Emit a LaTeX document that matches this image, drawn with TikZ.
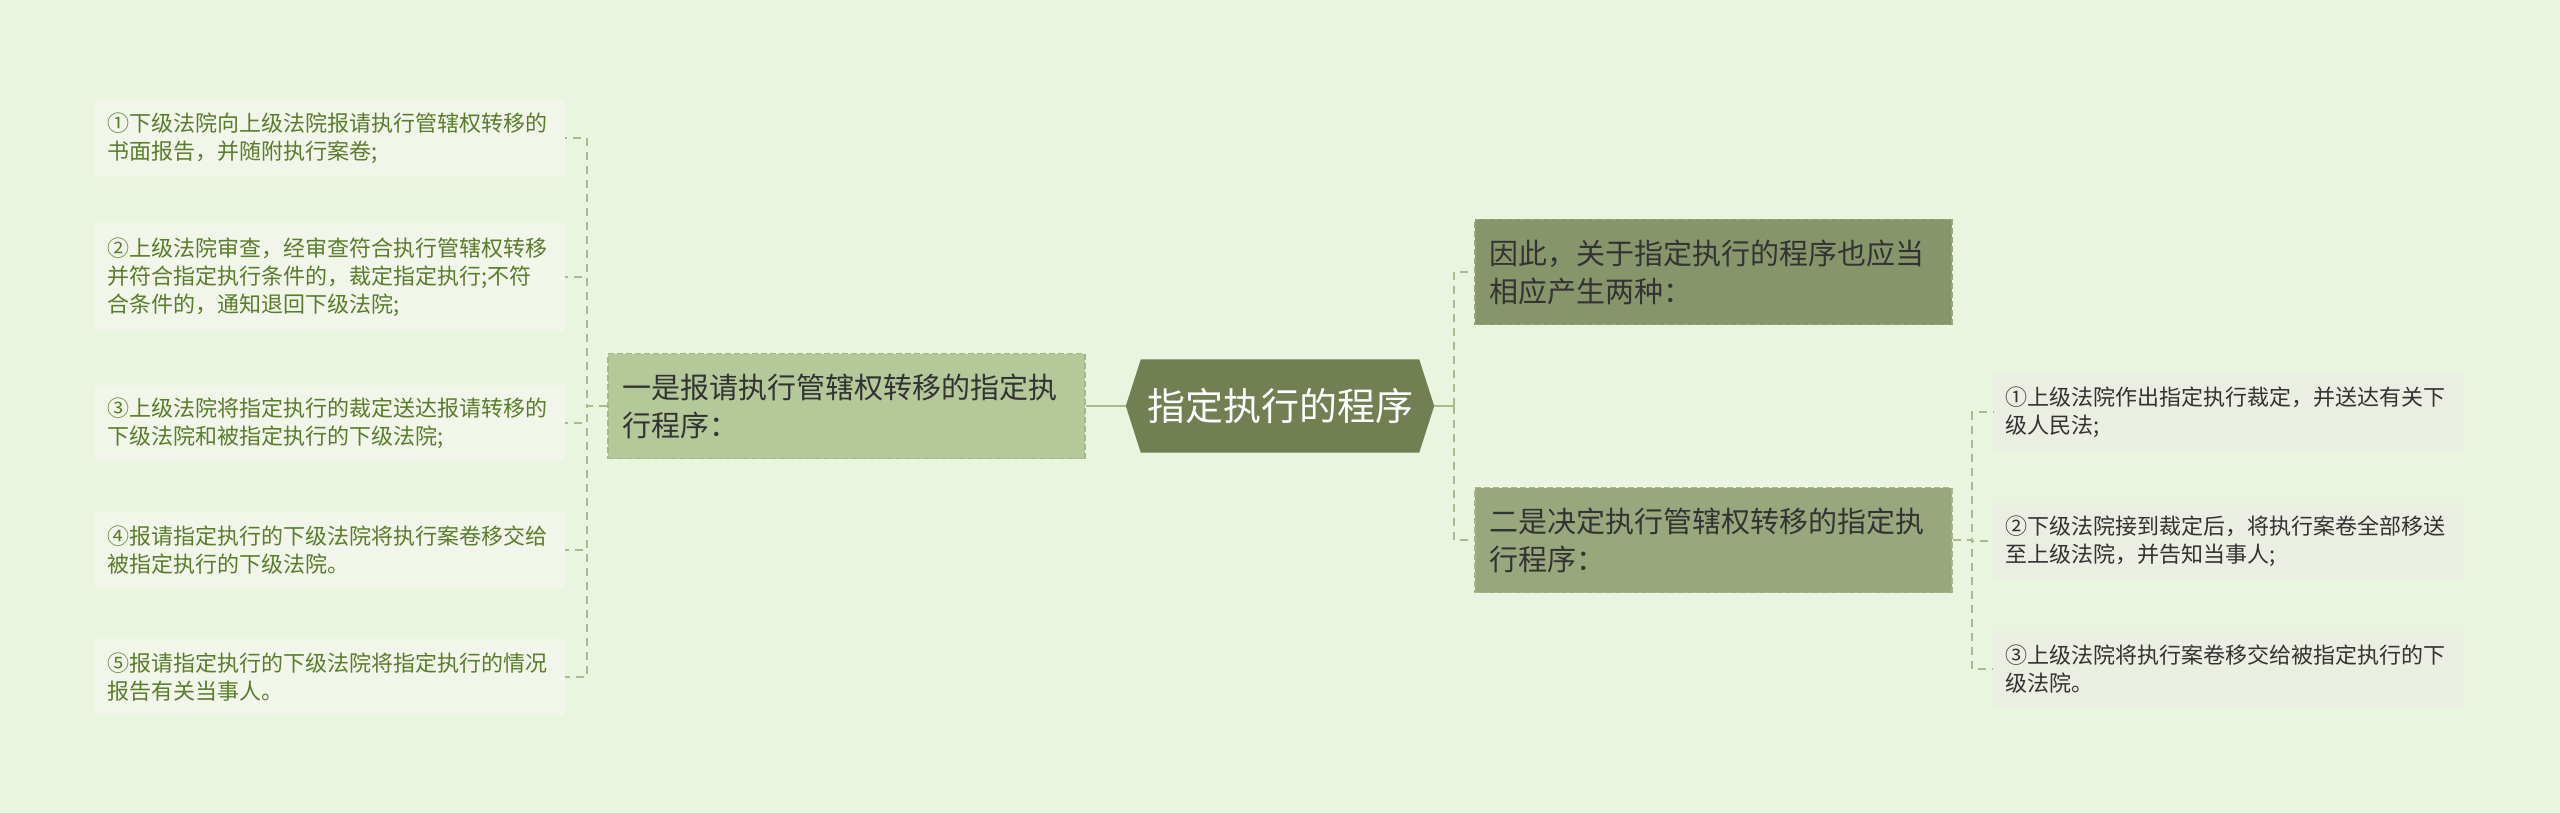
\documentclass[tikz,border=0pt]{standalone}
\usepackage{fontspec}
\setmainfont{Noto Sans CJK SC}
\usetikzlibrary{calc}
\pgfdeclarelayer{background}
\pgfsetlayers{background,main}
\definecolor{bgc}{HTML}{E9F5DE}
\definecolor{lleaffill}{HTML}{F1F5EA}
\definecolor{lleaftext}{HTML}{5A7D2B}
\definecolor{rleaffill}{HTML}{EBEEE2}
\definecolor{darktext}{HTML}{333333}
\definecolor{lmainfill}{HTML}{B4C899}
\definecolor{lmaindraw}{HTML}{A3B788}
\definecolor{r1fill}{HTML}{87966A}
\definecolor{r1draw}{HTML}{97A67B}
\definecolor{r2fill}{HTML}{98A87C}
\definecolor{r2draw}{HTML}{A6B58A}
\definecolor{hexfill}{HTML}{717F52}
\definecolor{connc}{HTML}{A9BB8E}
\begin{document}
\begin{tikzpicture}[x=1pt,y=-1pt,
  leafbox/.style={anchor=west, align=left, text width=446pt, inner xsep=12pt, inner ysep=0pt,
    font=\fontsize{22}{28}\selectfont, minimum height=76pt},
  lleaf/.style={leafbox, fill=lleaffill, text=lleaftext},
  rleaf/.style={leafbox, fill=rleaffill, text=darktext},
  mainbox/.style={anchor=west, align=left, text width=447pt, inner xsep=15pt, inner ysep=0pt,
    font=\fontsize{29}{38}\selectfont, minimum height=105pt, text=darktext,
    line width=1.5pt, dash pattern=on 6pt off 3pt},
  centerbox/.style={inner sep=0pt, minimum width=278pt, minimum height=93pt, text=white,
    font=\fontsize{38}{44}\selectfont},
  dconn/.style={draw=connc, line width=1.5pt, dash pattern=on 8pt off 6pt},
  sconn/.style={draw=connc, line width=2pt}
]
\begin{pgfonlayer}{background}
\fill[bgc] (0,0) rectangle (2560,813);
\end{pgfonlayer}

% central node
\node[centerbox] (c) at (1280,406) {指定执行的程序};
\coordinate (cL) at ($(c.west)+(-15pt,0)$);
\coordinate (cR) at ($(c.east)+(15pt,0)$);
\begin{pgfonlayer}{background}
\fill[hexfill] (c.north west) -- (c.north east) -- (cR) -- (c.south east) -- (c.south west) -- (cL) -- cycle;
\end{pgfonlayer}

% left main node
\node[mainbox, fill=lmainfill, draw=lmaindraw] (L) at (607,406) {一是报请执行管辖权转移的指定执\\行程序：};

% right main nodes
\node[mainbox, fill=r1fill, draw=r1draw] (R1) at (1474,272) {因此，关于指定执行的程序也应当\\相应产生两种：};
\node[mainbox, fill=r2fill, draw=r2draw] (R2) at (1474,540) {二是决定执行管辖权转移的指定执\\行程序：};

% left leaves
\node[lleaf] (l1) at (95,138) {①下级法院向上级法院报请执行管辖权转移的\\书面报告，并随附执行案卷;};
\node[lleaf, minimum height=107pt] (l2) at (95,277) {②上级法院审查，经审查符合执行管辖权转移\\并符合指定执行条件的，裁定指定执行;不符\\合条件的，通知退回下级法院;};
\node[lleaf] (l3) at (95,423) {③上级法院将指定执行的裁定送达报请转移的\\下级法院和被指定执行的下级法院;};
\node[lleaf] (l4) at (95,550) {④报请指定执行的下级法院将执行案卷移交给\\被指定执行的下级法院。};
\node[lleaf] (l5) at (95,677) {⑤报请指定执行的下级法院将指定执行的情况\\报告有关当事人。};

% right leaves
\node[rleaf] (r1) at (1993,412) {①上级法院作出指定执行裁定，并送达有关下\\级人民法;};
\node[rleaf] (r2) at (1993,541) {②下级法院接到裁定后，将执行案卷全部移送\\至上级法院，并告知当事人;};
\node[rleaf] (r3) at (1993,669) {③上级法院将执行案卷移交给被指定执行的下\\级法院。};

% connectors
\draw[sconn] (L.east) -- (cL);
\coordinate (lt) at (587,406);
\foreach \n in {l1,l2,l3,l4,l5}{
  \draw[dconn] (L.west) -- (lt) |- (\n.east);
}
\coordinate (rt) at (1454,406);
\draw[sconn] (cR) -- (rt);
\draw[dconn] (rt) |- (R1.west);
\draw[dconn] (rt) |- (R2.west);
\coordinate (rt2) at (1972,540);
\foreach \n in {r1,r2,r3}{
  \draw[dconn] (R2.east) -- (rt2) |- (\n.west);
}
\end{tikzpicture}
\end{document}
